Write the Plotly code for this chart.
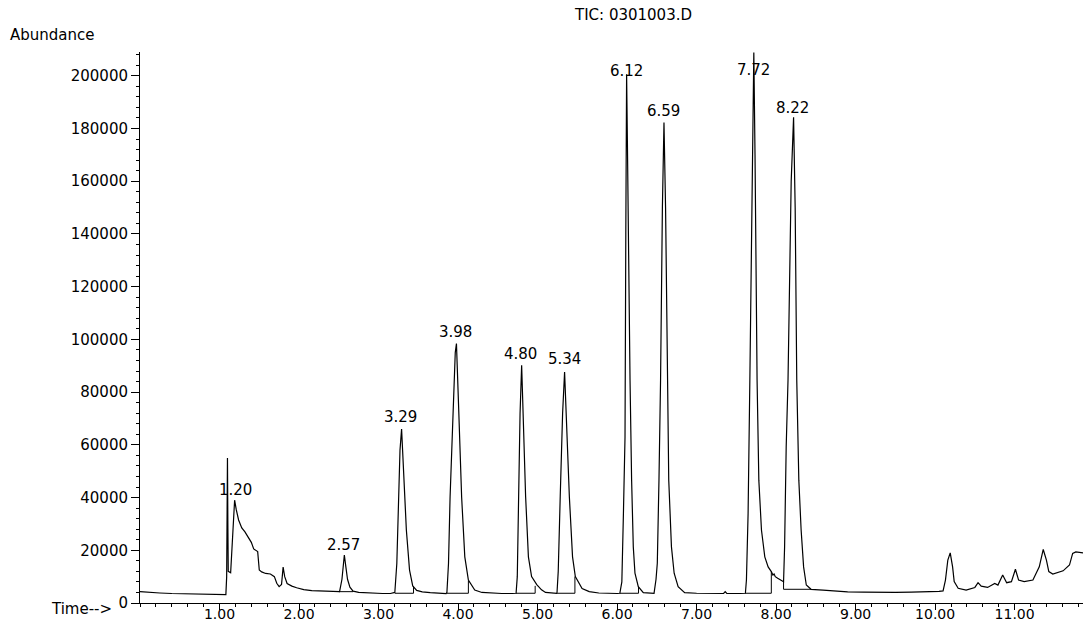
import plotly.graph_objects as go

# ---- chromatogram trace (time in minutes, abundance counts) ----
time_min = [
    0.00, 0.10, 0.25, 0.40, 0.55, 0.70, 0.85, 1.00, 1.08,
    1.09, 1.10, 1.105, 1.11, 1.14, 1.16, 1.19, 1.21, 1.24, 1.28, 1.32, 1.36, 1.40,
    1.43, 1.46, 1.48, 1.50, 1.53, 1.58, 1.64, 1.69, 1.72, 1.75, 1.78, 1.80, 1.82,
    1.85, 1.91, 1.97, 2.06, 2.16, 2.27, 2.39, 2.48,
    2.51, 2.54, 2.56, 2.57, 2.59, 2.61, 2.64, 2.68, 2.75, 2.85, 2.95, 3.05, 3.15,
    3.205, 3.23, 3.25, 3.27, 3.29, 3.305, 3.325, 3.35, 3.39, 3.43, 3.48, 3.55, 3.65, 3.75, 3.85,
    3.86, 3.88, 3.90, 3.94, 3.965, 3.98, 3.995, 4.01, 4.045, 4.085, 4.13, 4.21, 4.30, 4.42, 4.55, 4.68,
    4.73, 4.745, 4.76, 4.78, 4.80, 4.82, 4.85, 4.885, 4.925, 4.99, 5.05, 5.10, 5.20, 5.24,
    5.245, 5.26, 5.285, 5.315, 5.34, 5.36, 5.40, 5.44, 5.475, 5.56, 5.65, 5.77, 5.90, 6.00,
    6.035, 6.06, 6.08, 6.10, 6.11, 6.12, 6.13, 6.145, 6.163, 6.183, 6.204, 6.225, 6.267, 6.33, 6.40, 6.45,
    6.465, 6.49, 6.506, 6.527, 6.547, 6.57, 6.59, 6.61, 6.634, 6.65, 6.684, 6.718, 6.768, 6.85,
    7.00, 7.20, 7.34, 7.36, 7.38, 7.55, 7.61,
    7.614, 7.627, 7.648, 7.67, 7.70, 7.72, 7.735, 7.75, 7.761, 7.783, 7.816, 7.858, 7.90, 7.94,
    7.96, 7.975, 7.99, 8.02, 8.06, 8.09,
    8.094, 8.107, 8.127, 8.15, 8.19, 8.22, 8.24, 8.26, 8.286, 8.315, 8.346, 8.38, 8.44, 8.59,
    8.75, 8.90, 9.10, 9.30, 9.50, 9.70, 9.90, 10.05, 10.10,
    10.13, 10.16, 10.19, 10.22, 10.24, 10.29, 10.39, 10.50, 10.54, 10.58, 10.66, 10.75, 10.79,
    10.85, 10.90, 10.96, 11.01, 11.05, 11.12, 11.23, 11.31, 11.36, 11.40, 11.43, 11.48, 11.61,
    11.69, 11.73, 11.77, 11.86,
]
abundance = [
    4300, 4000, 3800, 3600, 3500, 3400, 3300, 3300, 3200,
    10000, 55000, 30000, 12000, 11500, 25000, 39000, 35500, 31500, 28500, 27000, 25000, 23000,
    20500, 20000, 19500, 12500, 11800, 11200, 11000, 10000, 7500, 6200, 7000, 13600, 10000,
    7400, 6400, 5800, 5100, 4700, 4500, 4300, 4200,
    4300, 9000, 16000, 18200, 13500, 9000, 6000, 4500, 4000, 3800, 3700, 3600, 3600,
    4000, 15000, 40300, 58000, 66000, 56000, 40000, 27700, 12500, 6500, 4800, 4200, 3900, 3700, 3600,
    4000, 15000, 40300, 78000, 95000, 98400, 88000, 71900, 40300, 17500, 8700, 4900, 4000, 3700, 3600, 3600,
    3700, 10000, 40300, 71900, 90200, 71900, 40300, 17500, 10000, 7000, 5000, 4000, 3700, 3700,
    4000, 12000, 40300, 71900, 87600, 71900, 40300, 17500, 10000, 5500, 4300, 3800, 3600, 3600,
    3700, 8000, 34000, 63000, 140000, 200600, 175000, 130000, 84500, 46600, 21300, 11300, 6200, 3900, 3700, 3700,
    3700, 9000, 15100, 46600, 84500, 150000, 182300, 150000, 84500, 46600, 21300, 11300, 6200, 3900,
    3700, 3600, 3600, 4300, 3600, 3600, 3700,
    3700, 8700, 34000, 84500, 170000, 208800, 170000, 120000, 84500, 46600, 27700, 17500, 13700, 11900,
    10600, 11000, 10000, 9400, 8600, 8100,
    8100, 21300, 59200, 84500, 160000, 184200, 150000, 84500, 46600, 27700, 13700, 6800, 5200, 4900,
    4400, 4200, 4100, 4000, 4000, 4100, 4200, 4400, 4600,
    8700, 16300, 19000, 13700, 8100, 5600, 4900, 5900, 7700, 6400, 5900, 7400, 6800,
    10600, 7700, 8100, 12800, 8700, 8100, 8700, 13700, 20300, 16300, 11900, 11000, 12200,
    14400, 18800, 19400, 19000,
]

# ---- integration baselines / drop lines (None separates segments) ----
integ_time = [2.50, 2.68, None,
              3.205, 3.44, 3.44, None,
              3.86, 4.13, 4.13, None,
              4.73, 4.97, 4.97, None,
              5.245, 5.47, 5.47, None,
              6.035, 6.27, 6.27, None,
              7.614, 7.94, 7.94, None,
              8.094, 8.094, 8.44]
integ_abund = [4300, 4300, None,
               3700, 3700, 6300, None,
               3700, 3700, 8400, None,
               3700, 3700, 6500, None,
               3700, 3700, 10000, None,
               3700, 3700, 6200, None,
               3700, 3700, 11900, None,
               8100, 5200, 5200]

# ---- peak retention-time labels ----
peak_labels = ["1.20", "2.57", "3.29", "3.98", "4.80", "5.34", "6.12", "6.59", "7.72", "8.22"]
peak_label_time = [1.20, 2.56, 3.28, 3.97, 4.78, 5.34, 6.12, 6.58, 7.71, 8.21]
peak_label_y = [39800, 18900, 67400, 99600, 91300, 89400, 198900, 183700, 199200, 184900]

# ---- axis ticks ----
x_tick_vals = [1, 2, 3, 4, 5, 6, 7, 8, 9, 10, 11]
x_tick_text = ["1.00", "2.00", "3.00", "4.00", "5.00", "6.00", "7.00", "8.00", "9.00", "10.00", "11.00"]
y_tick_vals = [0, 20000, 40000, 60000, 80000, 100000, 120000, 140000, 160000, 180000, 200000]

FONT = "DejaVu Sans"
FS = 15
W, H = 1083, 622
ML, MR, MT, MB = 140, 0, 52, 19

fig = go.Figure()
fig.add_trace(go.Scatter(x=time_min, y=abundance, mode="lines",
                         line=dict(color="black", width=1.2), showlegend=False,
                         hoverinfo="skip"))
fig.add_trace(go.Scatter(x=integ_time, y=integ_abund, mode="lines",
                         line=dict(color="black", width=1), showlegend=False,
                         connectgaps=False, hoverinfo="skip"))

for txt, tx, ty in zip(peak_labels, peak_label_time, peak_label_y):
    fig.add_annotation(x=tx, y=ty, text=txt, showarrow=False, xanchor="center",
                       yanchor="bottom", yshift=-3,
                       font=dict(family=FONT, size=FS, color="black"))

plot_w = W - ML - MR
plot_h = H - MT - MB
fig.add_annotation(xref="paper", yref="paper", x=(633 - ML) / plot_w, y=(H - MB - 15) / plot_h,
                   text="TIC: 0301003.D", showarrow=False, xanchor="center", yanchor="middle",
                   font=dict(family=FONT, size=FS, color="black"))
fig.add_annotation(xref="paper", yref="paper", x=(8 - ML) / plot_w, y=(H - MB - 35) / plot_h,
                   text="Abundance", showarrow=False, xanchor="left", yanchor="middle",
                   font=dict(family=FONT, size=FS, color="black"))
fig.add_annotation(xref="paper", yref="paper", x=(114 - ML) / plot_w, y=(H - MB - 609) / plot_h,
                   text="Time-->", showarrow=False, xanchor="right", yanchor="middle",
                   font=dict(family=FONT, size=FS, color="black"))

fig.update_layout(
    width=W, height=H,
    margin=dict(l=ML, r=MR, t=MT, b=MB, pad=0),
    paper_bgcolor="white", plot_bgcolor="white",
    showlegend=False,
)
fig.update_xaxes(
    range=[0, 11.86], showgrid=False, zeroline=False,
    showline=True, linecolor="black", linewidth=1,
    tickmode="array", tickvals=x_tick_vals, ticktext=x_tick_text,
    ticks="outside", ticklen=6, tickcolor="black", tickwidth=1,
    ticklabelstandoff=-8,
    minor=dict(dtick=0.2, tick0=0, ticks="outside", ticklen=3, tickcolor="black", showgrid=False),
    tickfont=dict(family=FONT, size=14, color="black"),
    automargin=False,
)
fig.update_yaxes(
    range=[0, 209000], showgrid=False, zeroline=False,
    showline=True, linecolor="black", linewidth=1,
    tickmode="array", tickvals=y_tick_vals, tickformat="d",
    ticks="outside", ticklen=8, tickcolor="black", tickwidth=1,
    minor=dict(dtick=4000, tick0=0, ticks="outside", ticklen=3, tickcolor="black", showgrid=False),
    tickfont=dict(family=FONT, size=FS, color="black"),
    automargin=False,
)

fig.write_html("out.html", config={"displayModeBar": False},
               post_script="document.body.style.margin='0';")
